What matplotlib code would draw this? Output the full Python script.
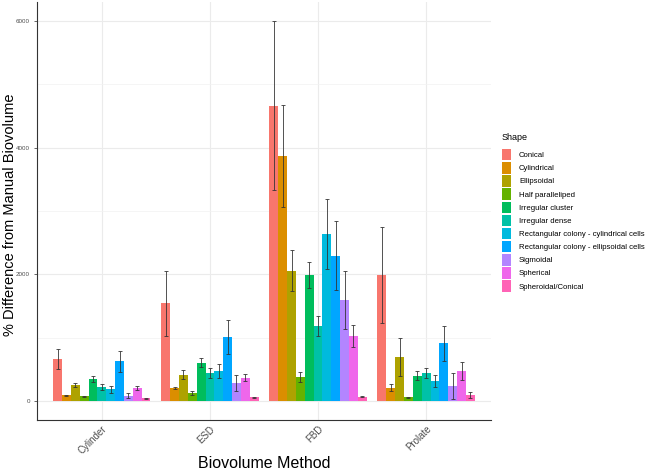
import numpy as np
import matplotlib.pyplot as plt
from matplotlib.patches import Patch
from matplotlib.ticker import MultipleLocator

plt.rcParams['font.family'] = ['Liberation Sans', 'DejaVu Sans']

methods = ['Cylinder', 'ESD', 'FBD', 'Prolate']
shapes = ['Conical', 'Cylindrical', 'Ellipsoidal', 'Half paralleliped',
          'Irregular cluster', 'Irregular dense',
          'Rectangular colony - cylindrical cells',
          'Rectangular colony - ellipsoidal cells',
          'Sigmoidal', 'Spherical', 'Spheroidal/Conical']
colors = ['#F8766D', '#DB8E00', '#AEA200', '#64B200', '#00BD5C', '#00C1A7',
          '#00BADE', '#00A6FF', '#B385FF', '#EF67EB', '#FF63B6']

# mean % difference, one row per shape, columns = methods
means = [
    [660, 1540, 4660, 1995],
    [90, 205, 3870, 210],
    [248, 418, 2060, 700],
    [74, 125, 375, 63],
    [347, 602, 1990, 400],
    [221, 445, 1184, 442],
    [189, 474, 2637, 316],
    [627, 1012, 2295, 911],
    [84, 286, 1590, 237],
    [210, 368, 1024, 474],
    [42, 56, 66, 90],
]
errs = [
    [160, 518, 1335, 760],
    [12, 20, 805, 58],
    [30, 75, 323, 298],
    [12, 28, 77, 8],
    [47, 71, 208, 66],
    [47, 77, 155, 82],
    [55, 106, 560, 92],
    [163, 271, 550, 274],
    [42, 121, 460, 211],
    [33, 52, 174, 140],
    [10, 8, 6, 47],
]

fig = plt.figure(figsize=(6.46, 4.74), dpi=100)
ax = fig.add_axes([37/646, 1-420/474, 454/646, 418/474])

n = len(shapes)
w = 0.9 / n
xc = np.arange(len(methods))
for j in range(n):
    x = xc + (j - (n - 1) / 2) * w
    ax.bar(x, means[j], width=w, color=colors[j], zorder=2)
    ax.errorbar(x, means[j], yerr=errs[j], fmt='none', ecolor='#333333',
                elinewidth=0.7, capsize=1.2, capthick=0.7, alpha=0.85, zorder=3)

ax.set_xlim(-0.6, len(methods) - 0.4)
ax.set_ylim(-300, 6300)
ax.set_xticks(xc)
ax.set_xticklabels(methods, rotation=45, ha='right', rotation_mode='anchor',
                   fontsize=7, color='#4D4D4D')
ax.set_yticks([0, 2000, 4000, 6000])
ax.yaxis.set_minor_locator(MultipleLocator(1000))
ax.tick_params(axis='y', labelsize=4.5, colors='#4D4D4D', length=2.5, width=0.6,
               pad=2.5)
ax.tick_params(axis='y', which='minor', length=0)
ax.tick_params(axis='x', length=0, pad=3)
ax.grid(True, which='major', color='#EBEBEB', linewidth=0.8, zorder=0)
ax.grid(True, which='minor', axis='y', color='#F2F2F2', linewidth=0.5, zorder=0)
ax.set_axisbelow(True)
for s in ['top', 'right']:
    ax.spines[s].set_visible(False)
for s in ['left', 'bottom']:
    ax.spines[s].set_color('#333333')
    ax.spines[s].set_linewidth(0.8)

fig.text(264/646, 1-464/474, 'Biovolume Method', fontsize=11.5,
         ha='center', va='center')
fig.text(10/646, 1-215/474, '% Difference from Manual Biovolume', fontsize=10.5,
         rotation=90, ha='center', va='center')

handles = [Patch(facecolor=c, edgecolor='none') for c in colors]
leg = fig.legend(handles, shapes, loc='upper left',
                 bbox_to_anchor=(502/646, 1-133/474), frameon=False,
                 fontsize=5.6, title='Shape', title_fontsize=6.5,
                 handlelength=1.2, handleheight=1.9, labelspacing=0.21,
                 handletextpad=1.0, borderpad=0, borderaxespad=0)
leg._legend_box.align = 'left'
leg._legend_box.sep = 5

fig.savefig('out.png', dpi=100)
